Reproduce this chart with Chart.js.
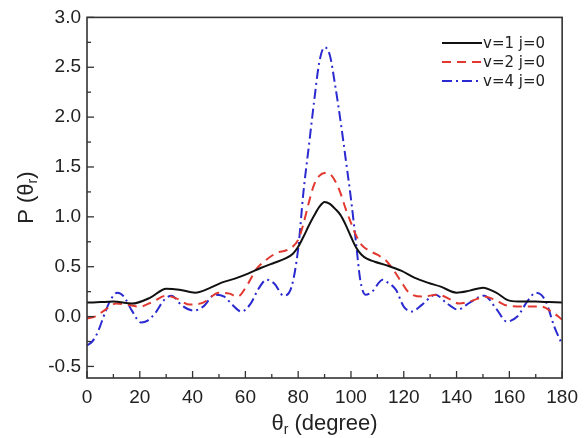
<!DOCTYPE html>
<html>
<head>
<meta charset="utf-8">
<script src="https://cdn.jsdelivr.net/npm/chart.js@4/dist/chart.umd.min.js"></script>
<style>
html,body{margin:0;padding:0;background:#fff;}
#wrap{width:586px;height:438px;position:relative;}
</style>
</head>
<body>
<div id="wrap"><canvas id="c" width="586" height="438"></canvas></div>
<script>
// ---- data ----
const seriesLabels = ["v=1 j=0", "v=2 j=0", "v=4 j=0"];

const anglesV1 = [0,5,10,17,24,30,35,41,46,51,56,61,66,71,75,78,80,82,84,86,88,90,92,94,96,98,100,102,104,106,109,114,119,124,129,134,140,145,150,155,160,165,170,175,180];
const valuesV1 = [0.14,0.145,0.15,0.13,0.19,0.28,0.27,0.24,0.28,0.34,0.38,0.43,0.49,0.54,0.58,0.63,0.70,0.80,0.91,1.01,1.10,1.15,1.13,1.08,1.02,0.92,0.80,0.69,0.62,0.58,0.55,0.51,0.46,0.39,0.34,0.30,0.24,0.26,0.29,0.24,0.16,0.15,0.15,0.145,0.14];

const anglesV2 = [0,3,7,11,15,20,25,30,34,39,44,50,54,57,61,64,67,72,76,80,82,84,86,88,90,92,94,96,98,100,102,104,107,110,113,116,119,122,127,133,137,141,146,151,155,159,165,172,176,180];
const valuesV2 = [-0.02,0.0,0.07,0.13,0.12,0.10,0.15,0.21,0.18,0.12,0.14,0.24,0.23,0.20,0.33,0.47,0.55,0.64,0.67,0.77,0.93,1.14,1.32,1.41,1.44,1.43,1.36,1.24,1.08,0.94,0.81,0.72,0.66,0.62,0.57,0.47,0.35,0.24,0.20,0.22,0.18,0.13,0.16,0.20,0.16,0.11,0.10,0.10,0.05,-0.03];

const anglesV4 = [0,2,4,7,9,11.5,14,17,20.5,23,26,29,32,36,40.5,44,48.5,52,55,58.5,62,65,68,71,74.5,77.5,80,82,84,86,88,90,92,94,96,98,100,102,103.5,105.5,108,112,114,117,120,123,127,132,136,140.5,145,150.5,155,159,163,167,170,172,174,177,180];
const valuesV4 = [-0.29,-0.25,-0.16,0.05,0.17,0.24,0.20,0.06,-0.06,-0.04,0.04,0.16,0.21,0.11,0.06,0.10,0.22,0.20,0.12,0.05,0.13,0.28,0.37,0.33,0.21,0.30,0.68,1.25,1.70,2.15,2.55,2.70,2.62,2.32,1.97,1.58,1.18,0.72,0.37,0.22,0.25,0.37,0.34,0.27,0.10,0.05,0.12,0.22,0.14,0.07,0.14,0.21,0.08,-0.05,0.0,0.16,0.24,0.22,0.14,-0.10,-0.28];

const xTickValues = [0,20,40,60,80,100,120,140,160,180];
const yTickValues = [-0.5,0.0,0.5,1.0,1.5,2.0,2.5,3.0];

// ---- styling ----
const colors = ["#111111", "#e2382f", "#2a2ad0"];
const dashes = [[], [9,6], [10,4,2,4]];
const toPts = (xs, ys) => xs.map((x,i)=>({x:x, y:ys[i]}));

const tickFont = {family: "'Liberation Sans', Arial, sans-serif", size: 19};

const frame = {
  id: 'frame',
  afterDraw(chart){
    const {ctx, chartArea:a, scales:{x, y}} = chart;
    ctx.save();
    ctx.strokeStyle = '#333';
    ctx.lineWidth = 1.6;
    ctx.strokeRect(a.left, a.top, a.right - a.left, a.bottom - a.top);
    ctx.lineWidth = 1.3;
    for (let v = 0; v <= 180; v += 10){
      const px = x.getPixelForValue(v);
      const len = (v % 20 === 0) ? 7 : 4;
      ctx.beginPath(); ctx.moveTo(px, a.bottom); ctx.lineTo(px, a.bottom - len); ctx.stroke();
    }
    for (let k = -2; k <= 12; k++){
      const v = k * 0.25;
      const py = y.getPixelForValue(v);
      const len = (k % 2 === 0) ? 7 : 4;
      ctx.beginPath(); ctx.moveTo(a.left, py); ctx.lineTo(a.left + len, py); ctx.stroke();
    }
    ctx.fillStyle = '#222';
    const big = "22px 'Liberation Sans', Arial, sans-serif";
    const sub = "14px 'Liberation Sans', Arial, sans-serif";
    {
      const p1 = "\u03B8", p2 = "r", p3 = " (degree)";
      ctx.font = big; const w1 = ctx.measureText(p1).width, w3 = ctx.measureText(p3).width;
      ctx.font = sub; const w2 = ctx.measureText(p2).width;
      const total = w1 + w2 + w3;
      let sx = (a.left + a.right)/2 - total/2;
      const by = 430;
      ctx.textBaseline = 'alphabetic'; ctx.textAlign = 'left';
      ctx.font = big; ctx.fillText(p1, sx, by); sx += w1;
      ctx.font = sub; ctx.fillText(p2, sx, by + 4); sx += w2;
      ctx.font = big; ctx.fillText(p3, sx, by);
    }
    {
      const p1 = "P (\u03B8", p2 = "r", p3 = ")";
      ctx.font = big; const w1 = ctx.measureText(p1).width, w3 = ctx.measureText(p3).width;
      ctx.font = sub; const w2 = ctx.measureText(p2).width;
      const total = w1 + w2 + w3;
      ctx.translate(33, (a.top + a.bottom)/2);
      ctx.rotate(-Math.PI/2);
      let sx = -total/2;
      ctx.textBaseline = 'alphabetic'; ctx.textAlign = 'left';
      ctx.font = big; ctx.fillText(p1, sx, 0); sx += w1;
      ctx.font = sub; ctx.fillText(p2, sx, 4); sx += w2;
      ctx.font = big; ctx.fillText(p3, sx, 0);
    }
    ctx.restore();
    ctx.save();
    ctx.font = "15px 'DejaVu Sans', sans-serif";
    ctx.textBaseline = 'middle'; ctx.textAlign = 'left';
    ctx.fillStyle = '#222';
    const rowsY = [43, 62, 81];
    chart.data.datasets.forEach((ds, i) => {
      const yy = rowsY[i];
      ctx.strokeStyle = ds.borderColor; ctx.lineWidth = 2;
      ctx.setLineDash(ds.borderDash || []);
      ctx.beginPath(); ctx.moveTo(442, yy); ctx.lineTo(482, yy); ctx.stroke();
      ctx.setLineDash([]);
      ctx.fillText(ds.label, 483, yy + 1);
    });
    ctx.restore();
  }
};

new Chart(document.getElementById('c'), {
  type: 'line',
  data: {
    datasets: [
      {label: seriesLabels[0], data: toPts(anglesV1, valuesV1)},
      {label: seriesLabels[1], data: toPts(anglesV2, valuesV2)},
      {label: seriesLabels[2], data: toPts(anglesV4, valuesV4)}
    ].map((d,i)=>Object.assign(d, {
      borderColor: colors[i], borderDash: dashes[i], borderWidth: 2,
      pointRadius: 0, fill: false, cubicInterpolationMode: 'monotone'
    }))
  },
  options: {
    responsive: false,
    animation: false,
    events: [],
    layout: {padding: {left: 0, top: 17, right: 13, bottom: 0}},
    plugins: {legend: {display: false}, tooltip: {enabled: false}},
    scales: {
      x: {
        type: 'linear', min: 0, max: 180,
        grid: {display: false, drawTicks: false},
        border: {display: false},
        afterBuildTicks: s => { s.ticks = xTickValues.map(v => ({value: v})); },
        afterFit: s => { s.height = 60; },
        ticks: {font: tickFont, color: '#222', padding: 8, maxRotation: 0, autoSkip: false,
          callback: v => String(v)}
      },
      y: {
        type: 'linear', min: -0.616, max: 3.0,
        grid: {display: false, drawTicks: false},
        border: {display: false},
        afterBuildTicks: s => { s.ticks = yTickValues.map(v => ({value: v})); },
        afterFit: s => { s.width = 87; },
        ticks: {font: tickFont, color: '#222', padding: 6, autoSkip: false,
          callback: v => Number(v).toFixed(1)}
      }
    }
  },
  plugins: [frame]
});
</script>
</body>
</html>
